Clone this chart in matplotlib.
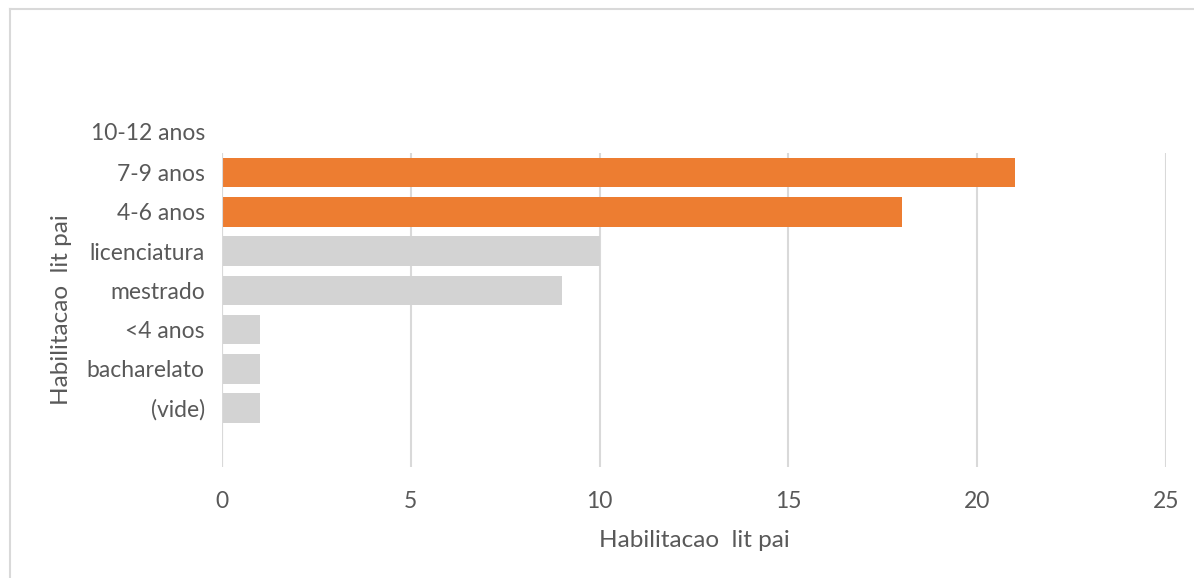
import matplotlib
matplotlib.use("Agg")
import matplotlib.pyplot as plt
from matplotlib.lines import Line2D
import matplotlib.transforms as mtransforms

categories = ["(vide)", "bacharelato", "<4 anos", "mestrado", "licenciatura", "4-6 anos", "7-9 anos", "10-12 anos"]
values = [1, 1, 1, 9, 10, 18, 21, 0]
highlight = [False, False, False, False, False, True, True, True]
xticks = [0, 5, 10, 15, 20, 25]
axis_title = "Habilitacao  lit pai"

ORANGE = "#ED7D31"
GRAY = "#D3D3D3"
TEXT = "#595959"
GRID = "#D9D9D9"

plt.rcParams['font.family'] = ['Lato', 'DejaVu Sans']
FS = 16.5

fig = plt.figure(figsize=(11.94, 5.78), dpi=100)
ax = fig.add_axes([222/1194, 1 - 467/578, (1166-222)/1194, (467-153)/578])

colors = [ORANGE if h else GRAY for h in highlight]
ax.barh(range(len(categories)), values, height=0.75, color=colors, zorder=3)

ax.set_xlim(0, 25)
ax.set_ylim(-1.5, 6.5)
ax.set_xticks(xticks)
ax.set_xticklabels([str(t) for t in xticks], fontsize=FS, color=TEXT)
shown = [i for i in range(len(categories)) if -1.5 < i < 6.5]
ax.set_yticks(shown)
ax.set_yticklabels([categories[i] for i in shown], fontsize=FS, color=TEXT)
# label that Excel draws above the plot area
trans = mtransforms.blended_transform_factory(ax.transAxes, ax.transData)
for i in range(len(categories)):
    if i >= 6.5:
        ax.text(-17/944, i, categories[i], transform=trans, ha="right", va="center",
                fontsize=FS, color=TEXT, clip_on=False)

ax.tick_params(axis="both", length=0)
ax.tick_params(axis="x", pad=17.5)
ax.tick_params(axis="y", pad=12.5)
ax.grid(axis="x", color=GRID, linewidth=1.5, zorder=0)
for s in ax.spines.values():
    s.set_visible(False)
ax.axvline(0, color=GRID, linewidth=1.5, zorder=4)

ax.set_xlabel(axis_title, fontsize=17.5, color=TEXT, labelpad=13)
# vertical axis title placed next to the category labels
ax.text(-0.1705, 0.5, axis_title, transform=ax.transAxes, rotation=90,
        rotation_mode="anchor", ha="center", va="center",
        fontsize=17.5, color=TEXT, clip_on=False)

fig.add_artist(Line2D([9.5/1194, 9.5/1194], [0, 1 - 8.5/578], color=GRID, linewidth=1.5))
fig.add_artist(Line2D([9.5/1194, 1], [1 - 8.5/578, 1 - 8.5/578], color=GRID, linewidth=1.5))

fig.savefig("out.png", dpi=100)
